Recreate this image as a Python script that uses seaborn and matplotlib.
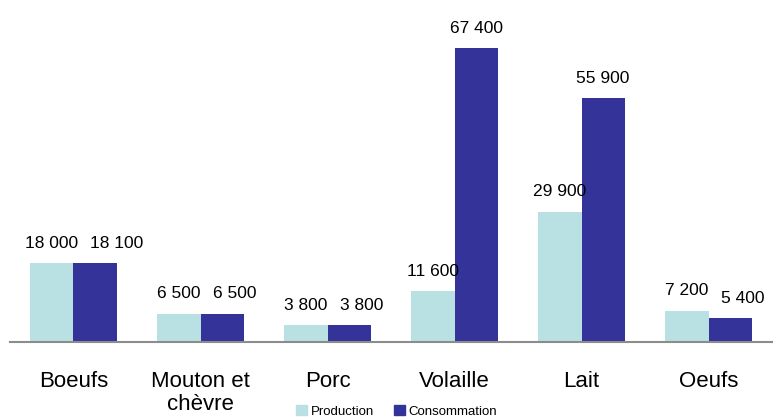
import numpy as np
import pandas as pd
import seaborn as sns
import matplotlib.pyplot as plt
from matplotlib.patches import Patch

categories = ['Boeufs', 'Mouton et\nchèvre', 'Porc', 'Volaille', 'Lait', 'Oeufs']
production = [18000, 6500, 3800, 11600, 29900, 7200]
consommation = [18100, 6500, 3800, 67400, 55900, 5400]
series = ['Production', 'Consommation']
colors = ['#b9e0e2', '#333399']

df = pd.DataFrame({
    'cat': categories * 2,
    'serie': [series[0]] * len(categories) + [series[1]] * len(categories),
    'val': production + consommation,
})

sns.set_style('white')
plt.rcParams['font.family'] = ['Liberation Sans', 'DejaVu Sans']
plt.rcParams['text.color'] = 'black'
plt.rcParams['xtick.color'] = 'black'

fig = plt.figure(figsize=(7.81, 4.17), dpi=100)
ax = fig.add_axes([0.0128, 0.180, 0.9757, 0.784])
sns.barplot(data=df, x='cat', y='val', hue='serie', palette=colors, width=0.68,
            gap=0, saturation=1, ax=ax, legend=False, linewidth=0)

ax.set_xlim(-0.5, 5.5)
ax.set_ylim(0, 75000)
ax.set_xlabel('')
ax.set_ylabel('')
ax.set_yticks([])
for s in ['top', 'right', 'left']:
    ax.spines[s].set_visible(False)
ax.spines['bottom'].set_color('#8c8c8c')
ax.spines['bottom'].set_linewidth(1.5)
ax.tick_params(axis='x', length=0, pad=21, labelsize=16)
for lbl in ax.get_xticklabels():
    lbl.set_linespacing(1.1)

texts = []
for cont in ax.containers:
    labels = [f'{int(v):,}'.replace(',', ' ') for v in cont.datavalues]
    texts.append(ax.bar_label(cont, labels=labels, padding=9, fontsize=12.5))

# push consommation labels right when they collide with the production label
fig.canvas.draw()
r = fig.canvas.get_renderer()
for tp, tc in zip(texts[0], texts[1]):
    bp = tp.get_window_extent(r)
    bc = tc.get_window_extent(r)
    if abs(bp.y0 - bc.y0) < bp.height and bc.x0 < bp.x1 + 12:
        shift = (bp.x1 + 12 - bc.x0) * 72 / fig.dpi
        x0, y0 = tc.xyann
        tc.xyann = (x0 + shift, y0)

handles = [Patch(color=c, label=s) for c, s in zip(colors, series)]
fig.legend(handles=handles, loc='lower center', bbox_to_anchor=(0.508, -0.03),
           ncol=2, frameon=False, fontsize=9.5, handlelength=0.8, handleheight=0.8,
           handletextpad=0.3, columnspacing=1.5)

fig.savefig('out.png', dpi=100)
